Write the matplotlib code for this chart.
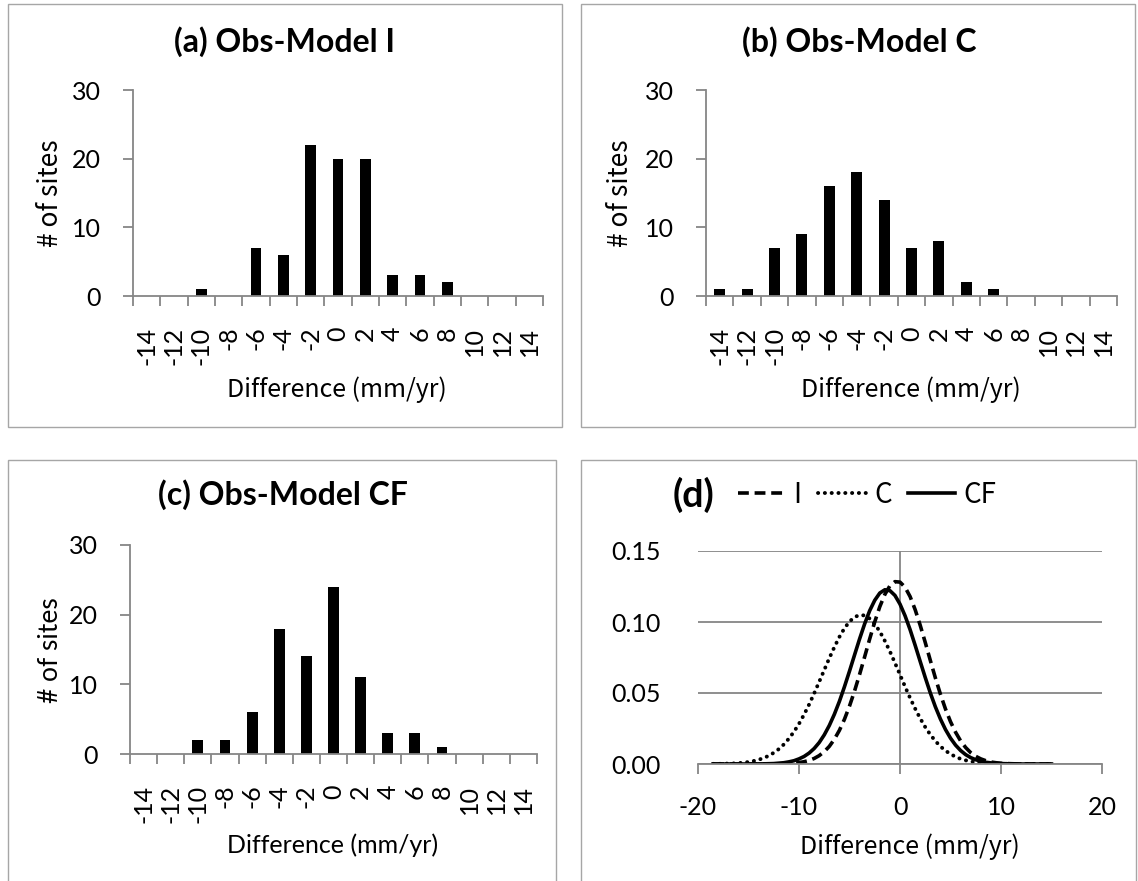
import matplotlib
matplotlib.use("Agg")
import matplotlib.pyplot as plt
from matplotlib.patches import Rectangle

plt.rcParams["axes.unicode_minus"] = False

# ---- data ----
bins = [-14, -12, -10, -8, -6, -4, -2, 0, 2, 4, 6, 8, 10, 12, 14]
count_I = [0, 0, 1, 0, 7, 6, 22, 20, 20, 3, 3, 2, 0, 0, 0]
count_C = [1, 1, 7, 9, 16, 18, 14, 7, 8, 2, 1, 0, 0, 0, 0]
count_CF = [0, 0, 2, 2, 6, 18, 14, 24, 11, 3, 3, 1, 0, 0, 0]

# density curves, read every 0.5 mm/yr from -18.5 to 15
dens_x = [-18.5 + 0.5 * i for i in range(68)]
dens_I = [0, 0, 0, 0,
          0, 0, 0, 0,
          0, 0, 0, 0,
          0, 0.0001, 0.0002, 0.0003,
          0.0006, 0.0010, 0.0016, 0.0025,
          0.0039, 0.0059, 0.0087, 0.0124,
          0.0174, 0.0237, 0.0315, 0.0408,
          0.0514, 0.0631, 0.0755, 0.0881,
          0.1001, 0.1108, 0.1194, 0.1255,
          0.1284, 0.1281, 0.1245, 0.1179,
          0.1087, 0.0977, 0.0856, 0.0730,
          0.0607, 0.0492, 0.0388, 0.0298,
          0.0224, 0.0163, 0.0116, 0.0080,
          0.0054, 0.0036, 0.0023, 0.0014,
          0.0009, 0.0005, 0.0003, 0.0002,
          0.0001, 0, 0, 0,
          0, 0, 0, 0]
dens_C = [0.0001, 0.0001, 0.0002, 0.0003,
          0.0004, 0.0006, 0.0010, 0.0014,
          0.0021, 0.0030, 0.0042, 0.0058,
          0.0079, 0.0105, 0.0138, 0.0179,
          0.0227, 0.0283, 0.0348, 0.0419,
          0.0497, 0.0579, 0.0662, 0.0745,
          0.0823, 0.0895, 0.0956, 0.1003,
          0.1035, 0.1049, 0.1046, 0.1024,
          0.0986, 0.0933, 0.0867, 0.0793,
          0.0712, 0.0629, 0.0545, 0.0465,
          0.0390, 0.0321, 0.0260, 0.0207,
          0.0162, 0.0124, 0.0094, 0.0070,
          0.0051, 0.0036, 0.0026, 0.0018,
          0.0012, 0.0008, 0.0005, 0.0003,
          0.0002, 0.0001, 0.0001, 0,
          0, 0, 0, 0,
          0, 0, 0, 0]
dens_CF = [0, 0, 0, 0,
           0, 0, 0, 0,
           0, 0.0001, 0.0001, 0.0002,
           0.0003, 0.0006, 0.0009, 0.0015,
           0.0023, 0.0036, 0.0053, 0.0077,
           0.0109, 0.0151, 0.0205, 0.0271,
           0.0350, 0.0441, 0.0544, 0.0654,
           0.0768, 0.0881, 0.0987, 0.1080,
           0.1153, 0.1204, 0.1227, 0.1221,
           0.1187, 0.1126, 0.1044, 0.0946,
           0.0836, 0.0722, 0.0609, 0.0501,
           0.0403, 0.0317, 0.0243, 0.0182,
           0.0133, 0.0095, 0.0066, 0.0045,
           0.0030, 0.0020, 0.0012, 0.0008,
           0.0005, 0.0003, 0.0002, 0.0001,
           0, 0, 0, 0,
           0, 0, 0, 0]

GRAY = "#868686"
BORDER = "#a6a6a6"
NUM_FONT = "Lato"
JP_FONT = ["Noto Sans CJK JP", "DejaVu Sans"]

W, H = 1138, 881
fig = plt.figure(figsize=(W / 100, H / 100), dpi=100)


def px_rect(x0, y0, x1, y1):
    # pixel box (top-left origin) -> figure fraction [l, b, w, h]
    return [x0 / W, (H - y1) / H, (x1 - x0) / W, (y1 - y0) / H]


# panel borders
for (x0, y0, x1, y1) in [(8, 4, 562, 427), (581, 4, 1135, 427),
                         (8, 460, 556, 905), (581, 460, 1136, 905)]:
    l, b, w, h = px_rect(x0, y0, x1, y1)
    fig.patches.append(Rectangle((l, b), w, h, transform=fig.transFigure,
                                 fill=False, edgecolor=BORDER, lw=1.0))


def hist_panel(box, counts, title, title_xy, xlab_xy, ylab_xy, lab_font):
    ax = fig.add_axes(px_rect(*box))
    pos = list(range(len(bins)))
    ax.bar(pos, counts, width=0.4, color="black")
    ax.set_xlim(-0.5, len(bins) - 0.5)
    ax.set_ylim(0, 30)
    ax.set_yticks([0, 10, 20, 30])
    ax.set_xticks(pos)
    ax.set_xticklabels([str(b) for b in bins], rotation=90)
    ax.set_xticks([p - 0.5 for p in range(len(bins) + 1)], minor=True)
    for s in ["top", "right"]:
        ax.spines[s].set_visible(False)
    for s in ["left", "bottom"]:
        ax.spines[s].set_color(GRAY)
        ax.spines[s].set_linewidth(1.3)
    ax.tick_params(axis="x", which="major", length=0, pad=22)
    ax.tick_params(axis="x", which="minor", length=7, width=1.3,
                   color=GRAY, direction="out")
    ax.tick_params(axis="y", length=7, width=1.3, color=GRAY, pad=16)
    for t in ax.get_xticklabels() + ax.get_yticklabels():
        t.set_fontfamily(NUM_FONT)
        t.set_fontsize(18)
    fig.text(title_xy[0] / W, 1 - title_xy[1] / H, title, ha="center",
             va="center", fontsize=23, fontweight="bold", family=NUM_FONT)
    fig.text(xlab_xy[0] / W, 1 - xlab_xy[1] / H, "Difference (mm/yr)",
             ha="center", va="center", fontsize=18, family=lab_font)
    fig.text(ylab_xy[0] / W, 1 - ylab_xy[1] / H, "# of sites",
             ha="center", va="center", fontsize=19, rotation=90,
             family=lab_font)
    return ax


hist_panel((133, 90, 543, 296), count_I, "(a) Obs-Model I",
           (285, 42), (337, 390), (50, 193), JP_FONT)
hist_panel((706, 90, 1117, 296), count_C, "(b) Obs-Model C",
           (859, 42), (911, 390), (620, 193), JP_FONT)
hist_panel((130, 545, 537, 754), count_CF, "(c) Obs-Model CF",
           (283, 495), (333, 845), (50, 650), [NUM_FONT])

# ---- panel (d) ----
ax = fig.add_axes(px_rect(698, 551, 1102, 764))
ax.plot(dens_x, dens_I, color="black", lw=2.6, ls=(0, (3.0, 1.6)), label="I")
ax.plot(dens_x, dens_C, color="black", lw=2.8, ls=(0, (0.05, 1.7)),
        dash_capstyle="round", label="C")
ax.plot(dens_x, dens_CF, color="black", lw=2.6, label="CF")
ax.set_xlim(-20, 20)
ax.set_ylim(0, 0.15)
ax.set_xticks([-20, -10, 0, 10, 20])
ax.set_yticks([0, 0.05, 0.10, 0.15])
ax.set_yticklabels(["0.00", "0.05", "0.10", "0.15"])
ax.grid(axis="y", color=GRAY, lw=1.3)
ax.axvline(0, color=GRAY, lw=1.3, zorder=0)
ax.set_axisbelow(True)
for s in ["top", "right", "left"]:
    ax.spines[s].set_visible(False)
ax.spines["bottom"].set_color(GRAY)
ax.spines["bottom"].set_linewidth(1.3)
ax.tick_params(axis="y", length=0, pad=27)
ax.tick_params(axis="x", length=7, width=1.3, color=GRAY, pad=16)
for t in ax.get_xticklabels() + ax.get_yticklabels():
    t.set_fontfamily(NUM_FONT)
    t.set_fontsize(18)
fig.text(910 / W, 1 - 847 / H, "Difference (mm/yr)", ha="center",
         va="center", fontsize=18, family=JP_FONT)
fig.text(693 / W, 1 - 495 / H, "(d)", ha="center", va="center",
         fontsize=27, fontweight="bold", family=NUM_FONT)
leg = ax.legend(loc="center left", bbox_to_anchor=(738 / W, 1 - 495 / H),
                bbox_transform=fig.transFigure, ncol=3, frameon=False,
                handlelength=1.7, handletextpad=0.3, columnspacing=0.6,
                borderpad=0, borderaxespad=0,
                prop={"family": JP_FONT, "size": 20})

fig.savefig("out.png", dpi=100, facecolor="white")
